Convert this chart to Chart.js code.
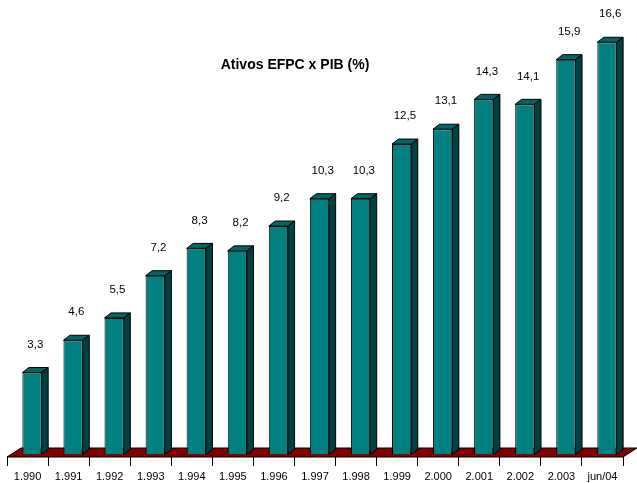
<!DOCTYPE html>
<html>
<head>
<meta charset="utf-8">
<script src="https://cdn.jsdelivr.net/npm/chart.js@4.4.1/dist/chart.umd.min.js"></script>
<style>
  html, body { margin: 0; padding: 0; background: #fff; }
  #wrap { width: 637px; height: 483px; }
</style>
</head>
<body>
<div id="wrap"><canvas id="chart"></canvas></div>
<script>
const years = ['1.990', '1.991', '1.992', '1.993', '1.994', '1.995', '1.996', '1.997',
  '1.998', '1.999', '2.000', '2.001', '2.002', '2.003', 'jun/04'];
const ativosPib = [3.3, 4.6, 5.5, 7.2, 8.3, 8.2, 9.2, 10.3, 10.3, 12.5, 13.1, 14.3, 14.1, 15.9, 16.6];
const chartTitle = 'Ativos EFPC x PIB (%)';

// depth offsets of the fake 3D look
const BAR_PUSH = { x: 4.5, y: -2.5 };
const BAR_DEPTH = { x: 6.5, y: -5 };
const FLOOR_DEPTH = { x: 14, y: -9 };

const fmt = v => v.toFixed(1).replace('.', ',');

const threeD = {
  id: 'threeD',
  beforeDatasetsDraw(chart) {
    const { ctx, chartArea: a } = chart;
    ctx.save();
    ctx.beginPath();
    ctx.moveTo(a.left, a.bottom);
    ctx.lineTo(a.right, a.bottom);
    ctx.lineTo(a.right + FLOOR_DEPTH.x, a.bottom + FLOOR_DEPTH.y);
    ctx.lineTo(a.left + FLOOR_DEPTH.x, a.bottom + FLOOR_DEPTH.y);
    ctx.closePath();
    ctx.fillStyle = '#800000';
    ctx.fill();
    ctx.strokeStyle = '#000';
    ctx.lineWidth = 1;
    ctx.stroke();
    ctx.restore();
  },
  beforeDatasetDraw(chart) {
    chart.ctx.save();
    chart.ctx.translate(BAR_PUSH.x, BAR_PUSH.y);
  },
  afterDatasetDraw(chart, args) {
    const ctx = chart.ctx;
    const meta = args.meta;
    ctx.lineWidth = 1;
    ctx.strokeStyle = '#000';
    meta.data.forEach((bar, i) => {
      const l = bar.x - bar.width / 2, r = bar.x + bar.width / 2;
      const t = bar.y, b = bar.base;
      // top face
      ctx.beginPath();
      ctx.moveTo(l, t);
      ctx.lineTo(l + BAR_DEPTH.x, t + BAR_DEPTH.y);
      ctx.lineTo(r + BAR_DEPTH.x, t + BAR_DEPTH.y);
      ctx.lineTo(r, t);
      ctx.closePath();
      ctx.fillStyle = '#006666';
      ctx.fill();
      ctx.stroke();
      // side face
      ctx.beginPath();
      ctx.moveTo(r, t);
      ctx.lineTo(r + BAR_DEPTH.x, t + BAR_DEPTH.y);
      ctx.lineTo(r + BAR_DEPTH.x, b + BAR_DEPTH.y);
      ctx.lineTo(r, b);
      ctx.closePath();
      ctx.fillStyle = '#004040';
      ctx.fill();
      ctx.stroke();
      // value label
      ctx.fillStyle = '#000';
      ctx.font = '11.5px "Liberation Sans", Arial, sans-serif';
      ctx.textAlign = 'center';
      ctx.textBaseline = 'middle';
      ctx.fillText(fmt(ativosPib[i]), bar.x + BAR_DEPTH.x / 2, t - 28);
    });
    ctx.restore();
  },
  afterDraw(chart) {
    const ctx = chart.ctx;
    ctx.save();
    ctx.fillStyle = '#000';
    ctx.font = 'bold 14px "Liberation Sans", Arial, sans-serif';
    ctx.textAlign = 'center';
    ctx.textBaseline = 'middle';
    ctx.fillText(chartTitle, 295, 65);
    ctx.restore();
  }
};

new Chart(document.getElementById('chart'), {
  type: 'bar',
  data: {
    labels: years,
    datasets: [{
      data: ativosPib,
      backgroundColor: '#008080',
      borderColor: '#000',
      borderWidth: 1,
      barPercentage: 0.47,
      categoryPercentage: 1
    }]
  },
  options: {
    responsive: true,
    maintainAspectRatio: false,
    animation: false,
    layout: { padding: { left: 7, right: 14, top: 10, bottom: 0 } },
    plugins: { legend: { display: false }, tooltip: { enabled: false } },
    scales: {
      x: {
        afterFit: s => { s.height = 26; },
        grid: { offset: true, drawOnChartArea: false, drawTicks: true, tickLength: 9, color: '#000' },
        border: { display: false },
        ticks: { color: '#000', padding: 4, font: { family: '"Liberation Sans", Arial, sans-serif', size: 11 }, maxRotation: 0, autoSkip: false }
      },
      y: { display: false, min: 0, max: 18 }
    }
  },
  plugins: [threeD]
});
</script>
</body>
</html>
